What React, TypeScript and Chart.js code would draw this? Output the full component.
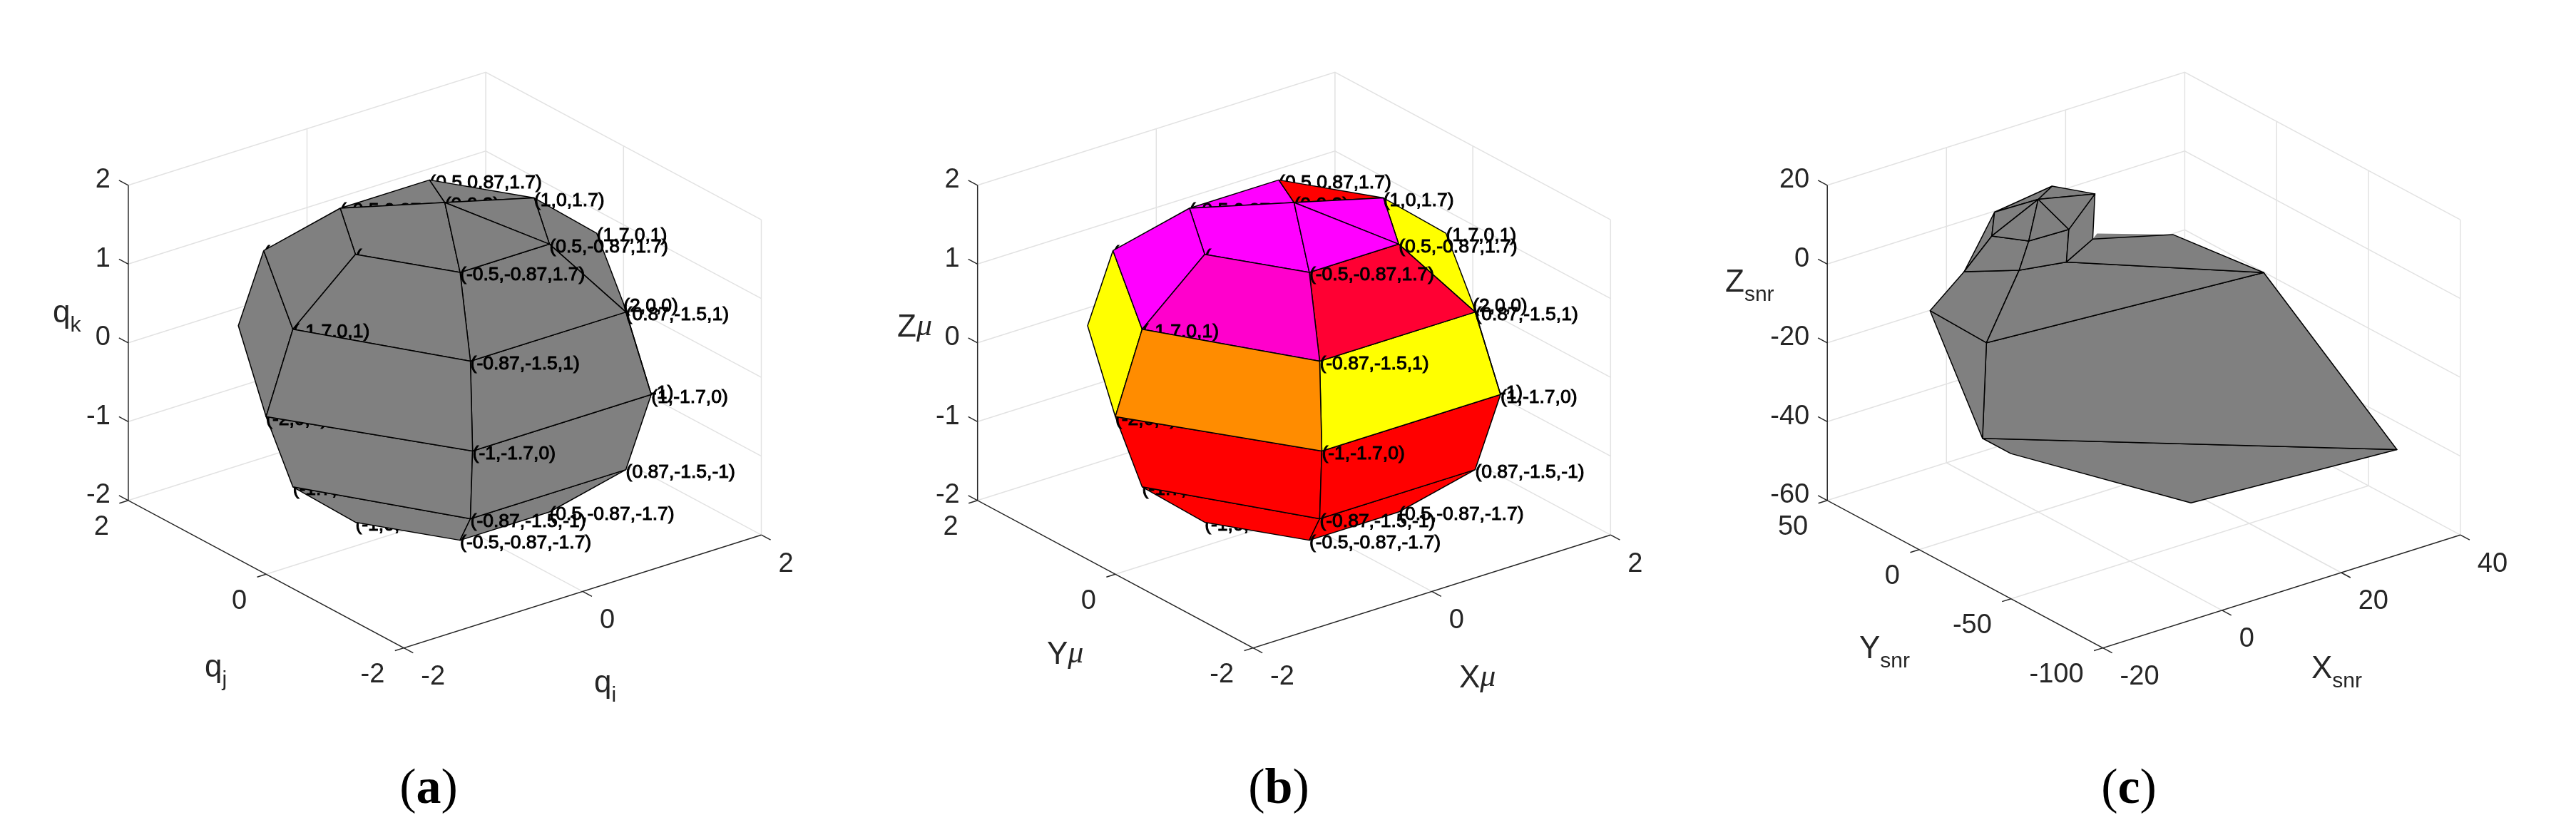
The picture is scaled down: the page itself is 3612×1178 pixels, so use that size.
import React, { useEffect, useRef } from 'react';
import { Chart, registerables } from 'chart.js';

Chart.register(...registerables);

// ---- sphere polyhedron (panels a and b)
const sphereX = [0, 1, 0.5, -0.5, -1, -0.5, 0.5, 1.7, 0.87, -0.87, -1.7, -0.87, 0.87, 2, 1, -1, -2, -1, 1, 1.7, 0.87, -0.87, -1.7, -0.87, 0.87, 1, 0.5, -0.5, -1, -0.5, 0.5];
const sphereY = [0, 0, 0.87, 0.87, 0, -0.87, -0.87, 0, 1.5, 1.5, 0, -1.5, -1.5, 0, 1.7, 1.7, 0, -1.7, -1.7, 0, 1.5, 1.5, 0, -1.5, -1.5, 0, 0.87, 0.87, 0, -0.87, -0.87];
const sphereZ = [2, 1.7, 1.7, 1.7, 1.7, 1.7, 1.7, 1, 1, 1, 1, 1, 1, 0, 0, 0, 0, 0, 0, -1, -1, -1, -1, -1, -1, -1.7, -1.7, -1.7, -1.7, -1.7, -1.7];
const sphereLabels = [
  '(0,0,2)', '(1,0,1.7)', '(0.5,0.87,1.7)', '(-0.5,0.87,1.7)', '(', '(-0.5,-0.87,1.7)', '(0.5,-0.87,1.7)',
  '(1.7,0,1)', '(0.87,1.5,1)', '(-0.87,1.5,1)', '(-1.7,0,1)', '(-0.87,-1.5,1)', '(0.87,-1.5,1)',
  '(2,0,0)', '(1,1.7,0)', '(-1,1.7,0)', '(-2,0,0)', '(-1,-1.7,0)', '(1,-1.7,0)',
  '(1.7,0,-1)', '(0.87,1.5,-1)', '(-0.87,1.5,-1)', '(-1.7,0,-1)', '(-0.87,-1.5,-1)', '(0.87,-1.5,-1)',
  '(1,0,-1.7)', '(0.5,0.87,-1.7)', '(-0.5,0.87,-1.7)', '(-1,0,-1.7)', '(-0.5,-0.87,-1.7)', '(0.5,-0.87,-1.7)',
];
// back to front, the faces that can be seen from this view
const sphereFaces = [
  [22, 28, 29, 23], [23, 24, 30, 29], [16, 17, 23, 22], [17, 18, 24, 23],
  [11, 12, 18, 17], [9, 15, 16, 10], [12, 13, 18], [1, 7, 13, 12, 6], [5, 6, 12, 11],
  [3, 2, 0], [2, 1, 0], [3, 0, 5, 4], [0, 1, 6], [0, 6, 5], [9, 3, 4, 10], [4, 5, 11, 10], [10, 11, 17, 16],
];
const sphereColors = [
  '#ff0000', '#ff0000', '#ff0000', '#ff0000',
  '#ffff00', '#ffff00', '#ffff00', '#ffff00', '#ff0033',
  '#ff00ff', '#ff0000', '#ff00ff', '#ff00ff', '#ff00ff', '#ff00ff', '#ff00cc', '#ff8c00',
];
const sphereGrey = sphereFaces.map(() => '#808080');
// labels sitting behind the whole shape, between faces, and in front of it
const labelsBehind = [2, 9, 19, 28];
const labelsBetween: Record<number, number> = { 0: 22, 2: 16, 9: 3, 10: 0, 11: 4, 15: 10 };
const labelsFront = [1, 7, 6, 5, 13, 12, 11, 18, 17, 24, 23, 30, 29];

// ---- estimated snr shape (panel c)
const snrX = [15.2, 18.2, 4, 8.8, 10, 2.9, 5.8, 14.5, 10.3, 3.7, -2.4, -6.7, 0.7, 33.7, 28.5, -0.7, 2.4, 14, 34.6, 17.6, 1.7];
const snrY = [41.8, 28.2, 36.8, 28.6, 15.8, 34.7, 24, 17.4, 18.1, 22.4, 32.6, 37.2, 30.5, -13.4, 19.2, 28.1, 22.7, -37.7, -83, 25.1, 38.7];
const snrZ = [5, 5, 5, 8, 3, 0, 0, -2, -6, -6, -6, -15, -25, -12, -8, -48, -52, -55, -40, -4, -3];
const snrFaces = [
  [19, 14, 7], [15, 16, 17, 18], [12, 13, 18, 15], [11, 12, 15], [10, 9, 12, 11], [9, 8, 13, 12], [8, 7, 14, 13],
  [2, 20, 10, 5], [5, 10, 9, 6], [6, 9, 8, 4], [4, 8, 7, 1], [0, 1, 3], [2, 0, 3], [2, 3, 5], [3, 6, 5], [3, 4, 6], [3, 1, 4],
];
const snrGrey = snrFaces.map(() => '#808080');
const snrEdgeless = [0];

const sphereTicksXY = [-2, 0, 2];
const sphereTicksZ = [-2, -1, 0, 1, 2];
const snrTicksX = [-20, 0, 20, 40];
const snrTicksY = [-100, -50, 0, 50];
const snrTicksZ = [-60, -40, -20, 0, 20];

// ---- view and layout
const PANEL_W = 1204;
const PANEL_H = 1178;
const CENTER_Y = 505;
const GRID = '#e2e2e2';
const AXIS = '#262626';
const TEXT = '#262626';
const SANS = '"Liberation Sans"';
const SERIF = '"Liberation Serif"';
const MAIN_FONT = `44px ${SANS}`;
const SUB_FONT = `30px ${SANS}`;
const MU_FONT = `italic 44px ${SERIF}`;

type Run = [string, string, number];
type PanelDef = {
  centerX: number;
  ticksX: number[]; ticksY: number[]; ticksZ: number[];
  xs: number[]; ys: number[]; zs: number[];
  faces: number[][]; colors: string[];
  labels?: string[];
  edgeless?: number[];
  titles: { runs: Run[]; x: number; y: number }[];
  caption: string; captionX: number;
};

const subRuns = (a: string, b: string): Run[] => [[a, MAIN_FONT, 0], [b, SUB_FONT, 13]];
const muRuns = (a: string): Run[] => [[a, MAIN_FONT, 0], ['\u03bc', MU_FONT, -2]];

const panels: PanelDef[] = [
  {
    centerX: 623.7, ticksX: sphereTicksXY, ticksY: sphereTicksXY, ticksZ: sphereTicksZ,
    xs: sphereX, ys: sphereY, zs: sphereZ, faces: sphereFaces, colors: sphereGrey, labels: sphereLabels,
    titles: [
      { runs: subRuns('q', 'i'), x: 833, y: 971 },
      { runs: subRuns('q', 'j'), x: 287, y: 949 },
      { runs: subRuns('q', 'k'), x: 74, y: 452 },
    ],
    caption: 'a', captionX: 601,
  },
  {
    centerX: 610.5, ticksX: sphereTicksXY, ticksY: sphereTicksXY, ticksZ: sphereTicksZ,
    xs: sphereX, ys: sphereY, zs: sphereZ, faces: sphereFaces, colors: sphereColors, labels: sphereLabels,
    titles: [
      { runs: muRuns('X'), x: 842, y: 964 },
      { runs: muRuns('Y'), x: 264, y: 931 },
      { runs: muRuns('Z'), x: 54, y: 472 },
    ],
    caption: 'b', captionX: 589,
  },
  {
    centerX: 598, ticksX: snrTicksX, ticksY: snrTicksY, ticksZ: snrTicksZ,
    xs: snrX, ys: snrY, zs: snrZ, faces: snrFaces, colors: snrGrey, edgeless: snrEdgeless,
    titles: [
      { runs: subRuns('X', 'snr'), x: 833, y: 951 },
      { runs: subRuns('Y', 'snr'), x: 199, y: 923 },
      { runs: subRuns('Z', 'snr'), x: 11, y: 409 },
    ],
    caption: 'c', captionX: 577,
  },
];

function drawRuns(ctx: CanvasRenderingContext2D, runs: Run[], x: number, y: number, color: string) {
  ctx.fillStyle = color;
  ctx.textAlign = 'left';
  ctx.textBaseline = 'alphabetic';
  let cx = x;
  for (const [text, font, dy] of runs) {
    ctx.font = font;
    ctx.fillText(text, cx, y + dy);
    cx += ctx.measureText(text).width;
  }
}

function buildConfig(p: PanelDef): any {
  const range = (t: number[]) => [t[0], t[t.length - 1]];
  const [x0, x1] = range(p.ticksX);
  const [y0, y1] = range(p.ticksY);
  const [z0, z1] = range(p.ticksZ);
  // orthographic view of the axes box, each axis normalised to -1..1
  const project = (x: number, y: number, z: number) => {
    const u = ((x - x0) / (x1 - x0)) * 2 - 1;
    const v = ((y - y0) / (y1 - y0)) * 2 - 1;
    const w = ((z - z0) / (z1 - z0)) * 2 - 1;
    return { x: 250.6 * u - 193.2 * v, y: 79.2 * u + 103.4 * v + 221 * w };
  };
  const stepY = (y1 - y0) * 0.0338;
  const stepX = (x1 - x0) * 0.025;

  const lines: any[] = [];
  const addLine = (pts: { x: number; y: number }[], color: string) =>
    lines.push({ data: pts, borderColor: color, borderWidth: 1.5, fill: false, showLine: true, pointRadius: 0, clip: false });

  // walls and floor
  addLine([project(x0, y1, z1), project(x1, y1, z1), project(x1, y0, z1)], GRID);
  addLine([project(x0, y1, z0), project(x1, y1, z0), project(x1, y0, z0)], GRID);
  addLine([project(x1, y0, z0), project(x1, y0, z1)], GRID);
  addLine([project(x1, y1, z0), project(x1, y1, z1)], GRID);
  p.ticksX.slice(1, -1).forEach((t) => {
    addLine([project(t, y0, z0), project(t, y1, z0), project(t, y1, z1)], GRID);
  });
  p.ticksY.slice(1, -1).forEach((t) => {
    addLine([project(x0, t, z0), project(x1, t, z0), project(x1, t, z1)], GRID);
  });
  p.ticksZ.slice(1, -1).forEach((t) => {
    addLine([project(x0, y1, t), project(x1, y1, t), project(x1, y0, t)], GRID);
  });
  // axes and their ticks
  addLine([project(x0, y1, z1), project(x0, y1, z0), project(x0, y0, z0), project(x1, y0, z0)], AXIS);
  p.ticksX.forEach((t) => addLine([project(t, y0, z0), project(t, y0 - stepY, z0)], AXIS));
  p.ticksY.forEach((t) => addLine([project(x0, t, z0), project(x0 - stepX, t, z0)], AXIS));
  p.ticksZ.forEach((t) => addLine([project(x0, y1, t), project(x0, y1 + stepY, t)], AXIS));

  const vertexLabel = (i: number) => ({ pos: project(p.xs[i], p.ys[i], p.zs[i]), text: p.labels![i] });
  if (p.labels) lines[lines.length - 1].labelsAfter = labelsBehind.map(vertexLabel);

  const faces = p.faces.map((face, i) => {
    const pts = [...face, face[0]].map((k) => project(p.xs[k], p.ys[k], p.zs[k]));
    const between = p.labels ? labelsBetween[i] : undefined;
    return {
      data: pts,
      showLine: true,
      fill: 'shape',
      backgroundColor: p.colors[i],
      borderColor: p.edgeless?.includes(i) ? 'rgba(0,0,0,0)' : '#000000',
      borderWidth: 1.5,
      borderJoinStyle: 'round',
      pointRadius: 0,
      clip: false,
      labelsAfter: between === undefined ? [] : [vertexLabel(between)],
    };
  });

  // Chart.js paints the first dataset last, so the painter's order is reversed here
  const datasets = [...lines, ...faces].reverse();

  const drawVertexLabel = (chart: any, l: { pos: { x: number; y: number }; text: string }) => {
    const ctx = chart.ctx;
    const px = chart.scales.x.getPixelForValue(l.pos.x);
    const py = chart.scales.y.getPixelForValue(l.pos.y);
    ctx.save();
    ctx.font = `26.5px ${SANS}`;
    ctx.fillStyle = '#000000';
    ctx.strokeStyle = '#000000';
    ctx.lineWidth = 1;
    ctx.textAlign = 'left';
    ctx.textBaseline = 'middle';
    ctx.fillText(l.text, px, py + 4);
    ctx.strokeText(l.text, px, py + 4);
    ctx.restore();
  };

  const textPlugin = {
    id: 'panelText',
    afterDatasetDraw(chart: any, args: any) {
      const ds = chart.data.datasets[args.index];
      (ds.labelsAfter || []).forEach((l: any) => drawVertexLabel(chart, l));
    },
    afterDatasetsDraw(chart: any) {
      const ctx = chart.ctx;
      if (p.labels) labelsFront.forEach((i) => drawVertexLabel(chart, vertexLabel(i)));
      const sx = chart.scales.x;
      const sy = chart.scales.y;
      ctx.save();
      ctx.font = `38px ${SANS}`;
      ctx.fillStyle = TEXT;
      ctx.textBaseline = 'middle';
      ctx.textAlign = 'left';
      p.ticksX.forEach((t) => {
        const a = project(t, y0, z0);
        ctx.fillText(String(t), sx.getPixelForValue(a.x) + 24, sy.getPixelForValue(a.y) + 41);
      });
      ctx.textAlign = 'right';
      p.ticksY.forEach((t) => {
        const a = project(x0, t, z0);
        ctx.fillText(String(t), sx.getPixelForValue(a.x) - 27, sy.getPixelForValue(a.y) + 38);
      });
      p.ticksZ.forEach((t) => {
        const a = project(x0, y1, t);
        ctx.fillText(String(t), sx.getPixelForValue(a.x) - 25, sy.getPixelForValue(a.y) - 7);
      });
      p.titles.forEach((t) => drawRuns(ctx, t.runs, t.x, t.y, TEXT));
      // caption, bold letter between thin brackets
      const capRuns: Run[] = [['(', `70px ${SERIF}`, 0], [p.caption, `bold 70px ${SERIF}`, 0], [')', `70px ${SERIF}`, 0]];
      let w = 0;
      capRuns.forEach(([text, font]) => {
        ctx.font = font;
        w += ctx.measureText(text).width;
      });
      drawRuns(ctx, capRuns, p.captionX - w / 2, 1126, '#000000');
      ctx.restore();
    },
  };

  return {
    type: 'scatter',
    data: { datasets },
    options: {
      animation: false,
      responsive: false,
      devicePixelRatio: 1,
      events: [],
      layout: { padding: 0 },
      plugins: { legend: { display: false }, tooltip: { enabled: false }, title: { display: false } },
      scales: {
        x: { type: 'linear', display: false, min: -p.centerX, max: PANEL_W - p.centerX },
        y: { type: 'linear', display: false, min: CENTER_Y - PANEL_H, max: CENTER_Y },
      },
    },
    plugins: [textPlugin],
  };
}

const Panel: React.FC<{ def: PanelDef; left: number }> = ({ def, left }) => {
  const canvasRef = useRef<HTMLCanvasElement>(null);

  useEffect(() => {
    if (!canvasRef.current) return;
    const chart = new Chart(canvasRef.current, buildConfig(def));
    return () => chart.destroy();
  }, [def]);

  return (
    <canvas
      ref={canvasRef}
      width={PANEL_W}
      height={PANEL_H}
      style={{ position: 'absolute', left, top: 0, width: PANEL_W, height: PANEL_H, display: 'block' }}
    />
  );
};

export default function App() {
  return (
    <div style={{ position: 'fixed', left: 0, top: 0, width: 3612, height: 1178, background: '#fff', overflow: 'hidden' }}>
      {panels.map((def, i) => (
        <Panel key={def.caption} def={def} left={i * PANEL_W} />
      ))}
    </div>
  );
}
